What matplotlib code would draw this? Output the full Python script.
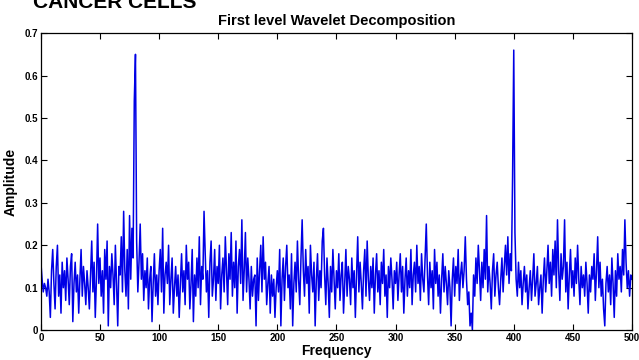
import numpy as np
import matplotlib.pyplot as plt

plt.rcParams.update({
    "font.family": ["Liberation Sans", "DejaVu Sans"],
    "xtick.direction": "in",
    "ytick.direction": "in",
})

# amplitude, one value per frequency step (0..500)
AMP = [
    0.16, 0.12, 0.09, 0.11, 0.10, 0.08, 0.12, 0.09, 0.03, 0.14,
    0.19, 0.11, 0.05, 0.15, 0.20, 0.08, 0.13, 0.04, 0.16, 0.10,
    0.14, 0.07, 0.17, 0.12, 0.06, 0.15, 0.18, 0.02, 0.11, 0.16,
    0.09, 0.13, 0.04, 0.12, 0.19, 0.08, 0.15, 0.11, 0.06, 0.14,
    0.10, 0.05, 0.13, 0.21, 0.09, 0.16, 0.03, 0.12, 0.25, 0.11,
    0.17, 0.08, 0.14, 0.04, 0.19, 0.12, 0.21, 0.01, 0.15, 0.10,
    0.18, 0.13, 0.06, 0.20, 0.11, 0.01, 0.15, 0.13, 0.22, 0.09,
    0.28, 0.14, 0.08, 0.19, 0.05, 0.27, 0.12, 0.24, 0.17, 0.54,
    0.65, 0.21, 0.09, 0.16, 0.25, 0.12, 0.18, 0.07, 0.14, 0.10,
    0.17, 0.05, 0.12, 0.15, 0.02, 0.11, 0.18, 0.08, 0.13, 0.06,
    0.14, 0.19, 0.09, 0.24, 0.04, 0.13, 0.16, 0.11, 0.20, 0.06,
    0.12, 0.17, 0.04, 0.10, 0.15, 0.08, 0.13, 0.03, 0.11, 0.18,
    0.09, 0.14, 0.06, 0.20, 0.12, 0.16, 0.05, 0.11, 0.19, 0.02,
    0.13, 0.08, 0.17, 0.10, 0.22, 0.06, 0.15, 0.12, 0.28, 0.18,
    0.09, 0.14, 0.03, 0.16, 0.21, 0.08, 0.12, 0.19, 0.07, 0.15,
    0.11, 0.20, 0.05, 0.13, 0.17, 0.09, 0.22, 0.14, 0.06, 0.18,
    0.12, 0.23, 0.08, 0.16, 0.10, 0.21, 0.04, 0.15, 0.19, 0.11,
    0.26, 0.07, 0.14, 0.23, 0.09, 0.17, 0.12, 0.05, 0.15, 0.08,
    0.12, 0.13, 0.01, 0.17, 0.07, 0.14, 0.20, 0.09, 0.22, 0.12,
    0.16, 0.06, 0.11, 0.15, 0.04, 0.13, 0.08, 0.12, 0.03, 0.10,
    0.14, 0.09, 0.19, 0.01, 0.12, 0.17, 0.07, 0.15, 0.20, 0.10,
    0.13, 0.05, 0.18, 0.01, 0.11, 0.16, 0.09, 0.21, 0.12, 0.06,
    0.17, 0.26, 0.14, 0.08, 0.19, 0.11, 0.15, 0.04, 0.20, 0.13,
    0.09, 0.16, 0.01, 0.12, 0.18, 0.07, 0.14, 0.10, 0.21, 0.24,
    0.13, 0.06, 0.17, 0.11, 0.03, 0.15, 0.09, 0.19, 0.12, 0.05,
    0.14, 0.10, 0.18, 0.07, 0.13, 0.16, 0.04, 0.11, 0.19, 0.08,
    0.15, 0.12, 0.06, 0.17, 0.10, 0.14, 0.03, 0.13, 0.22, 0.09,
    0.16, 0.11, 0.05, 0.14, 0.19, 0.08, 0.21, 0.12, 0.07, 0.15,
    0.10, 0.17, 0.04, 0.13, 0.18, 0.09, 0.14, 0.06, 0.16, 0.11,
    0.19, 0.08, 0.13, 0.03, 0.15, 0.10, 0.17, 0.12, 0.05, 0.14,
    0.11, 0.16, 0.07, 0.13, 0.18, 0.09, 0.15, 0.04, 0.12, 0.17,
    0.08, 0.14, 0.10, 0.19, 0.06, 0.13, 0.16, 0.09, 0.20, 0.11,
    0.15, 0.07, 0.18, 0.12, 0.09, 0.17, 0.25, 0.13, 0.06, 0.16,
    0.10, 0.14, 0.05, 0.19, 0.11, 0.16, 0.08, 0.13, 0.04, 0.12,
    0.18, 0.09, 0.15, 0.11, 0.06, 0.14, 0.10, 0.01, 0.12, 0.17,
    0.08, 0.15, 0.11, 0.19, 0.07, 0.13, 0.16, 0.10, 0.14, 0.22,
    0.12, 0.06, 0.09, 0.01, 0.04, 0.00, 0.13, 0.08, 0.17, 0.11,
    0.20, 0.14, 0.07, 0.16, 0.10, 0.19, 0.12, 0.27, 0.09, 0.15,
    0.11, 0.05, 0.14, 0.18, 0.08, 0.13, 0.16, 0.10, 0.06, 0.12,
    0.17, 0.09, 0.15, 0.20, 0.13, 0.22, 0.11, 0.18, 0.14, 0.36,
    0.66, 0.23, 0.12, 0.08, 0.16, 0.10, 0.14, 0.06, 0.11, 0.15,
    0.09, 0.13, 0.05, 0.10, 0.14, 0.07, 0.12, 0.18, 0.08, 0.11,
    0.15, 0.06, 0.10, 0.13, 0.04, 0.12, 0.17, 0.09, 0.14, 0.20,
    0.11, 0.16, 0.08, 0.19, 0.13, 0.21, 0.10, 0.26, 0.14, 0.07,
    0.18, 0.12, 0.15, 0.26, 0.09, 0.16, 0.05, 0.13, 0.19, 0.10,
    0.14, 0.08, 0.17, 0.11, 0.20, 0.12, 0.06, 0.15, 0.10, 0.13,
    0.08, 0.16, 0.11, 0.04, 0.13, 0.09, 0.15, 0.12, 0.18, 0.07,
    0.14, 0.22, 0.10, 0.16, 0.08, 0.12, 0.05, 0.01, 0.11, 0.15,
    0.09, 0.13, 0.06, 0.17, 0.11, 0.03, 0.14, 0.08, 0.18, 0.12,
    0.15, 0.09, 0.19, 0.13, 0.26, 0.16, 0.10, 0.14, 0.08, 0.13,
    0.12,
]
FREQ = np.arange(len(AMP))
XTICKS = [0, 50, 100, 150, 200, 250, 300, 350, 400, 450, 500]
YTICKS = [0, 0.1, 0.2, 0.3, 0.4, 0.5, 0.6, 0.7]
YTICKLABELS = ["0", "0.1", "0.2", "0.3", "0.4", "0.5", "0.6", "0.7"]

fig = plt.figure(figsize=(6.39, 3.6), dpi=100)
ax = fig.add_axes([0.064, 0.083, 0.925, 0.825])
ax.plot(FREQ, AMP, color="#0000e6", lw=1.1)

ax.set_xlim(0, 500)
ax.set_ylim(0, 0.7)
ax.set_xticks(XTICKS)
ax.set_yticks(YTICKS)
ax.set_yticklabels(YTICKLABELS)
ax.tick_params(top=True, right=True, length=4, width=0.8, pad=2,
               labelsize=7)
for lab in ax.get_xticklabels() + ax.get_yticklabels():
    lab.set_fontweight("bold")
for sp in ax.spines.values():
    sp.set_linewidth(0.9)

ax.set_title("First level Wavelet Decomposition", fontsize=10.5,
             fontweight="bold", pad=6)
ax.set_xlabel("Frequency", fontsize=10, fontweight="bold", labelpad=1)
ax.set_ylabel("Amplitude", fontsize=10, fontweight="bold", labelpad=5)

fig.text(0.052, 1 - 8 / 360, "CANCER CELLS", fontsize=15,
         fontweight="bold", va="baseline", ha="left")

fig.savefig("out.png", dpi=100)
